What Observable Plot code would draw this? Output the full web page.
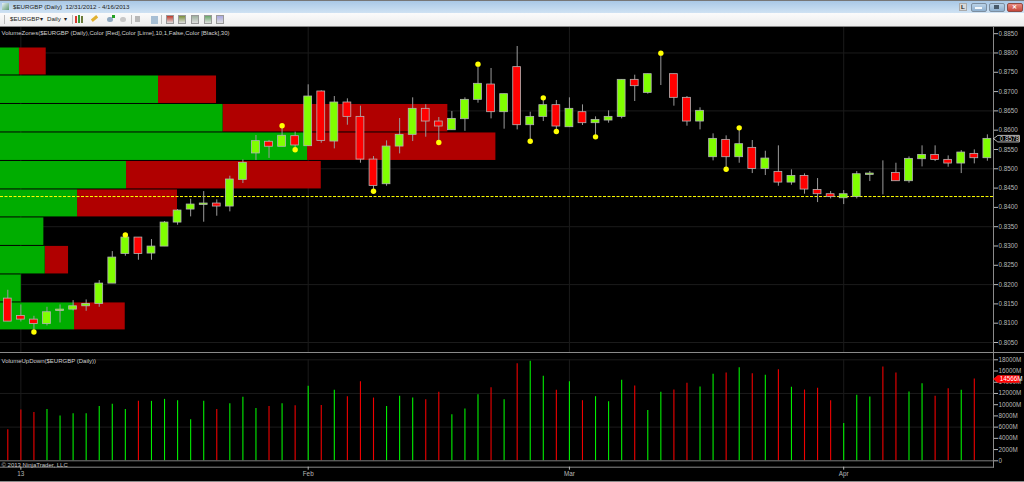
<!DOCTYPE html>
<html><head><meta charset="utf-8">
<script src="https://cdn.jsdelivr.net/npm/d3@7"></script>
<script src="https://cdn.jsdelivr.net/npm/@observablehq/plot@0.6"></script>
<style>
html,body{margin:0;padding:0;background:#000;overflow:hidden;width:1024px;height:482px;font-family:"Liberation Sans",Arial,sans-serif}
#title{position:relative;height:13px;box-sizing:border-box;border-top:1.5px solid #777;background:linear-gradient(#a9c8e6,#cfe2f3)}
#tool{position:relative;height:14px;box-sizing:border-box;background:linear-gradient(#fbfbfb,#ececec);border-bottom:1px solid #888}
.t{position:absolute;font-size:6.2px;line-height:8px;color:#222;white-space:pre}
.b{position:absolute;box-sizing:border-box}
.sep{height:1px;background:#8a8a8a}
svg{display:block}
</style></head><body>
<div id="title"></div><div id="tool"></div><div id="price"></div><div class="sep"></div><div id="volume"></div><div class="sep"></div>
<script>
const opens=[.81637,.81188,.81093,.8098,.81317,.81352,.81438,.81499,.82026,.82795,.83218,.82804,.82985,.83607,.83944,.84065,.841,.84022,.84713,.85397,.857,.8557,.85845,.85585,.87002,.85706,.86717,.86345,.85239,.846,.85576,.85879,.86553,.86224,.85999,.86285,.86786,.87183,.86466,.87633,.86129,.86345,.86648,.86077,.86466,.86181,.8625,.86345,.87304,.86967,.8746,.87451,.86838,.86224,.853,.85749,.853,.85542,.84997,.8492,.84643,.84816,.84453,.84341,.84237,.84272,.84842,.84894,.84894,.84678,.85248,.8536,.85231,.85136,.85386,.85274];
const closes=[.81041,.81093,.8098,.81283,.81352,.81438,.81499,.82026,.827,.83218,.82795,.82985,.83607,.83918,.84074,.841,.84022,.84722,.85154,.85716,.85571,.85855,.85604,.86872,.85723,.86717,.86345,.85239,.84557,.85576,.85879,.86553,.86224,.86095,.86293,.86786,.87201,.86466,.86933,.86129,.86345,.86648,.86095,.86553,.86181,.86267,.86345,.87304,.8714,.87451,.8746,.86838,.86224,.86501,.85775,.853,.85637,.84997,.85265,.84643,.84816,.84462,.84341,.84272,.84341,.84859,.84876,.84894,.84678,.85257,.8536,.85231,.85136,.85421,.85274,.85775];
const highs=[.81853,.81473,.81179,.81412,.81473,.81585,.81603,.82104,.82855,.83287,.83218,.83166,.83633,.83944,.84212,.8441,.84195,.84808,.8523,.85863,.85734,.86115,.85949,.87175,.87019,.86872,.86812,.86622,.85317,.85723,.86302,.86838,.8666,.86328,.86483,.86838,.8771,.87598,.86933,.88168,.86466,.86838,.86769,.86838,.86656,.86345,.86501,.87304,.87425,.87451,.87995,.87451,.86872,.8658,.85905,.85853,.8606,.85732,.85455,.85594,.84971,.84868,.84747,.8441,.84436,.84928,.84928,.85205,.85144,.85308,.85594,.85594,.85334,.85472,.8549,.85879];
const lows=[.81041,.81032,.8078,.80929,.81006,.81317,.81309,.81412,.82026,.82734,.82631,.82631,.82985,.83538,.83754,.83616,.83771,.83884,.84618,.85216,.85268,.8557,.85493,.85585,.85663,.85516,.86129,.85144,.84419,.84548,.85386,.85706,.85818,.8568,.85999,.8597,.86699,.86293,.86026,.86008,.85715,.86224,.85965,.86077,.86121,.85827,.86181,.86293,.86743,.86933,.87157,.86622,.86103,.86008,.85205,.84989,.85144,.84876,.84825,.84548,.84574,.84341,.84125,.8422,.84073,.8422,.84669,.84324,.84678,.84626,.85049,.85187,.85041,.84876,.85127,.85196];
const dotIndex=[2,9,21,22,28,33,36,40,41,42,45,50,55,56];
const dotPrice=[.80773,.83287,.86115,.85493,.84419,.8568,.8771,.85715,.86838,.85965,.85827,.87995,.84989,.8606];
const volumes=[5534,9044,8628,9163,7973,8390,8390,9699,10056,9163,10591,10591,10948,10710,7319,10591,9163,10175,11305,9342,9699,10175,9818,13269,9877,12555,11424,14102,11186,9699,11484,11186,10889,12198,8211,9223,11781,13031,10889,17315,17731,15054,12555,14102,10710,11424,10532,14340,13328,8985,12198,12614,13804,13150,15411,15649,16600,15530,15232,16244,13090,12614,12912,10710,6664,11662,11365,16720,15649,12257,13745,11484,12852,12555,14566];
const volumeUp=[0,0,0,1,1,1,1,1,1,1,0,1,1,1,1,1,0,1,1,1,0,1,0,1,0,1,0,0,0,1,1,1,0,0,1,1,1,0,1,0,1,1,0,1,0,1,1,1,0,1,1,0,0,1,1,0,1,0,1,0,1,0,0,0,1,1,1,0,0,1,1,0,0,1,0];
const zoneEdges=[.88142,.87417,.86679,.85941,.85203,.84465,.8374,.83002,.82263,.81538,.80813];
const zoneUp=[1.45,12.10,17.04,23.51,9.65,5.90,3.32,3.42,1.59,5.67];
const zoneTotal=[3.50,16.54,34.25,37.93,24.56,13.55,3.32,5.21,1.59,9.55];
const dateTicks=[1,23,43,64];
const dateLabels=["13","Feb","Mar","Apr"];
const supportLevel=.84281;
const lastPrice=.8578, lastVolume=14566;
const priceTicks=d3.range(17).map(i=>.805+i*.005);
const priceGrid=[.805,.82,.835,.85,.865,.88];
const volumeTicks=d3.range(10).map(i=>i*2000);
const volumeGrid=[6000,12000,18000];
const priceLabel="VolumeZones($EURGBP (Daily),Color [Red],Color [Lime],10,1,False,Color [Black],30)";
const volumeLabel="VolumeUpDown($EURGBP (Daily))";
const copyrightLabel="© 2013 NinjaTrader, LLC";

const xDomain=[-0.559,75.47];
const idx=d3.range(opens.length);
const F="'Liberation Sans',Arial,sans-serif";
const style={background:"#000",fontFamily:F,display:"block"};
const axisColor="#b8b8b8", frameColor="#8a8a8a", gridColor="#1b1b1b";
const zones=zoneUp.map((u,i)=>({u,t:zoneTotal[i],y1:zoneEdges[i+1],y2:zoneEdges[i]}));
const z0=xDomain[0];

function flag(v,h){return [[75.47,v],[75.8,v+h],[77.45,v+h],[77.45,v-h],[75.8,v-h],[75.47,v]];}

const price=Plot.plot({
  width:1024,height:325,marginTop:0,marginBottom:0,marginLeft:0,marginRight:31,style,
  x:{domain:xDomain,axis:null},
  y:{domain:[.80241,.88660],axis:null},
  marks:[
    Plot.ruleY(priceGrid,{stroke:gridColor}),
    Plot.ruleX(dateTicks,{stroke:gridColor}),
    Plot.rect(zones,{x1:d=>z0+d.u,x2:d=>z0+d.t,y1:"y1",y2:"y2",fill:d=>d.t>d.u?"#b00000":"none",insetTop:.5,insetBottom:.5}),
    Plot.rect(zones,{x1:()=>z0,x2:d=>z0+d.u,y1:"y1",y2:"y2",fill:"#00ad00",insetTop:.5,insetBottom:.5}),
    Plot.ruleY([supportLevel],{stroke:"#ffff00",strokeDasharray:"3,1.5",strokeWidth:1}),
    Plot.ruleX(idx,{x:i=>i,y1:i=>lows[i],y2:i=>highs[i],stroke:"#9a9a9a",strokeWidth:1}),
    Plot.rect(idx,{x1:i=>i-.3,x2:i=>i+.3,y1:i=>opens[i],y2:i=>closes[i],
      fill:i=>closes[i]<opens[i]?"#ff0000":"#80ff00",
      stroke:i=>closes[i]===opens[i]?"#ffffff":"#b4b4b4",strokeWidth:.8}),
    Plot.dot(dotIndex,{x:i=>i,y:(d,k)=>dotPrice[k],r:2.7,fill:"#ffff00"}),
    Plot.frame({anchor:"right",stroke:frameColor}),
    Plot.axisY(priceTicks,{anchor:"right",tickSize:4,tickPadding:1,fontSize:6.3,color:axisColor,tickFormat:d3.format(".4f"),label:null}),
    Plot.line(flag(lastPrice,.00085),{x:"0",y:"1",stroke:"#e8e8e8",fill:"#000",strokeWidth:.8}),
    Plot.text([lastPrice],{x:()=>75.95,y:d=>d,text:d3.format(".4f"),textAnchor:"start",fontSize:6.3,fill:"#d8d8d8"}),
    Plot.text([priceLabel],{frameAnchor:"top-left",dx:1,dy:3,fontSize:6,fill:"#d0d0d0"})
  ]
});
document.getElementById("price").append(price);

const volume=Plot.plot({
  width:1024,height:128,marginTop:0,marginBottom:14.3,marginLeft:0,marginRight:31,style,
  x:{domain:xDomain,axis:null},
  y:{domain:[0,18000],range:[107.3,6.3],axis:null},
  marks:[
    Plot.ruleY(volumeGrid,{stroke:gridColor}),
    Plot.ruleX(dateTicks,{y1:0,y2:18000,stroke:gridColor}),
    Plot.ruleX(volumes,{x:(d,i)=>i,y1:0,y2:d=>d,stroke:(d,i)=>volumeUp[i]?"#00f000":"#f00000",strokeWidth:1.1}),
    Plot.ruleY([0],{stroke:"#7a7a7a"}),
    Plot.frame({anchor:"bottom",stroke:frameColor}),
    Plot.frame({anchor:"right",stroke:frameColor}),
    Plot.axisX(dateTicks,{anchor:"bottom",tickSize:3,tickPadding:1,fontSize:6.3,color:axisColor,label:null,tickFormat:d=>dateLabels[dateTicks.indexOf(d)]}),
    Plot.axisY(volumeTicks,{anchor:"right",tickSize:4,tickPadding:1,fontSize:6.3,color:axisColor,label:null,tickFormat:d=>d?d+"M":"0"}),
    Plot.line(flag(lastVolume,620),{x:"0",y:"1",stroke:"#ff2020",fill:"#ff0000",strokeWidth:.6}),
    Plot.text([lastVolume],{x:()=>75.95,y:d=>d,text:d=>d+"M",textAnchor:"start",fontSize:6.3,fill:"#fff"}),
    Plot.text([volumeLabel],{frameAnchor:"top-left",dx:1,dy:5,fontSize:6,fill:"#d0d0d0"}),
    Plot.text([copyrightLabel],{frameAnchor:"bottom-left",dx:1,dy:-.5,lineAnchor:"bottom",fontSize:6,fill:"#c8c8c8"})
  ]
});
document.getElementById("volume").append(volume);

/* window chrome */
const title=document.getElementById("title"), tool=document.getElementById("tool");
function t(p,x,y,s,extra=""){const e=document.createElement("div");e.className="t";e.style.cssText=`left:${x}px;top:${y}px;${extra}`;e.textContent=s;p.append(e);}
function b(p,x,y,w,h,bg,extra=""){const e=document.createElement("div");e.className="b";e.style.cssText=`left:${x}px;top:${y}px;width:${w}px;height:${h}px;background:${bg};${extra}`;p.append(e);}
t(title,13,2,"$EURGBP (Daily)  12/31/2012 - 4/16/2013");
b(title,2,2,7,7,"linear-gradient(135deg,#e8f0f6,#5f9a70)");
b(title,959,2,8,8,"#d8d8d8","border:1px solid #aaa");t(title,961,2,"L","font-weight:bold");
b(title,970.5,2,16.5,9,"linear-gradient(#b9d2e8,#8fb0cf)","border:1px solid #7c8ea0;border-radius:2px");
b(title,975,6,7,1.5,"#f4f8fb");
b(title,989,2,15.5,9,"linear-gradient(#b9d2e8,#8fb0cf)","border:1px solid #7c8ea0;border-radius:2px");
b(title,994,4,5,4,"#47596a");
b(title,1006.5,2,16.5,9,"linear-gradient(#e88a7e,#c6463a)","border:1px solid #8e4a44;border-radius:2px");
t(title,1012,2,"✕","color:#fff;font-weight:bold");
t(tool,10,2,"$EURGBP");t(tool,40,2,"▾");t(tool,47,2,"Daily");t(tool,64,2,"▾");
b(tool,4,2,1,9,"#bbb");b(tool,72,2,1,9,"#bbb");b(tool,131,2,1,9,"#bbb");b(tool,161,2,1,9,"#bbb");
b(tool,75,3,2,7,"#d63a2e");b(tool,78,2,2,8,"#3a9a3a");b(tool,81,3,2,7,"#6a7a3a");
b(tool,91,4,7,3,"#e0b030","transform:rotate(-40deg)");
b(tool,107,4,6,5,"#8fa9c0","border-radius:3px");b(tool,112,2,3,3,"#22a022");
b(tool,120,4,6,5,"#c8c8c8","border-radius:3px");
b(tool,135,3,5,6,"#b8b8b8");b(tool,151,3,7,8,"#a8bfd4");
const icons=[[166,"#c0392b"],[178,"#7c8f3c"],[191,"#9db09d"],[204,"#6aa86a"],[216,"#a9a8e0"]];
for(const [x,c] of icons){b(tool,x,2,8,9,`linear-gradient(${c},#ddd)`,"border:1px solid #999");}
</script>
</body></html>
